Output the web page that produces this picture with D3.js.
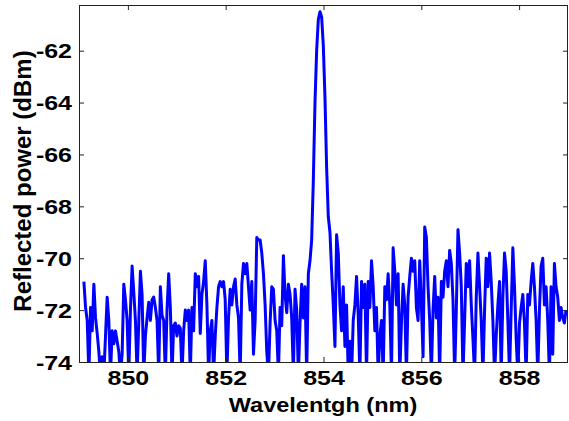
<!DOCTYPE html>
<html>
<head>
<meta charset="utf-8">
<script src="https://cdn.jsdelivr.net/npm/d3@7/dist/d3.min.js"></script>
<style>
  body { margin: 0; background: #fff; }
  text { font-family: "Liberation Sans", Arial, sans-serif; font-weight: bold; fill: #000; }
</style>
</head>
<body>
<svg id="chart"></svg>
<script>
"use strict";

// sampling grid of the spectrum (nm)
const wlStart = 849.1;
const wlStep = 0.034;

// reflected power (dBm) left to right
const power849 = [
  -70.9,-71.9,-72.4,-74.5,-71.9,-72.8,-71.0,-72.3,-72.9,-73.6,
  -74.5,-73.8,-74.5,-73.0,-71.5,-72.4,-74.5,-72.8,-73.3,-72.8,
  -73.2,-73.6,-74.5,-73.7,-71.0,-71.6,-72.4,-74.5,-72.0,-70.3,
  -71.3,-72.4,-74.5,-72.5,-70.5,-71.4,-74.5,-73.0,-72.3,-71.7,
  -72.4,-71.6,-71.5,-71.9,-72.4,-74.5,-71.1,-72.2,-72.4,-74.5,
  -72.0,-70.6,-71.9,-74.5,-72.6,-72.5,-73.0,-72.6
];
const power851 = [
  -72.7,-74.5,-72.8,-72.0,-72.4,-72.0,-74.5,-71.9,-72.8,-70.6,
  -71.1,-70.7,-72.9,-71.4,-70.9,-70.1,-71.8,-74.5,-72.8,-72.4,
  -74.5,-73.0,-71.9,-71.1,-70.9,-71.1,-70.9,-71.6,-74.5,-72.3,
  -71.2,-71.8,-71.1,-70.8,-71.8,-72.3,-74.5,-71.0,-70.2,-70.6,
  -70.2,-71.1,-72.0,-70.9,-73.7,-72.4,-69.2,-69.3,-69.3,-69.8,
  -70.6,-71.8,-73.6,-74.5,-72.5,-71.1
];
const powerPeak = [
  -71.2,-72.4,-72.8,-74.5,-71.9,-72.6,-69.9,-71.4,-72.1,-71.0,
  -71.4,-72.3,-74.5,-71.2,-72.0,-74.5,-72.5,-71.0,-72.3,-71.1,
  -74.5,-70.6,-70.1,-69.3,-67.0,-64.0,-62.0,-60.8,-60.5,-60.7,
  -61.8,-63.8,-66.5,-68.4
];
const power855 = [
  -69.0,-70.5,-71.8,-73.4,-69.1,-69.8,-71.8,-72.8,-71.1,-73.4,
  -71.8,-74.5,-73.2,-74.5,-72.4,-71.8,-70.7,-72.2,-74.5,-70.9,
  -71.9,-71.0,-74.5,-70.9,-71.9,-70.1,-71.1,-72.8,-71.9,-74.5,
  -73.0,-72.4,-74.5,-71.1,-71.6,-70.6,-71.8,-74.5,-69.6,-70.5,
  -71.8,-70.6,-74.5,-72.5,-71.0,-71.8,-74.5,-71.5,-70.7,-70.0,
  -70.5,-70.1,-71.9,-72.4,-70.1,-71.8,-73.8,-68.8,-69.2,-71.1,
  -72.4,-74.5,-72.0,-70.7,-72.3,-71.5,-74.5,-70.9,-71.5,-70.5,
  -70.1,-71.1,-69.7,-70.2,-71.6,-74.5,-72.0,-68.9,-69.8,-71.1,
  -74.5,-72.4,-70.2,-71.1,-70.1,-71.8,-73.1,-74.5,-71.5,-69.8,
  -71.1,-72.4,-74.5,-72.0,-70.0,-71.1,-69.8,-70.9,-72.4,-74.5,
  -73.0,-71.8,-70.9,-74.5,-71.5,-69.8,-70.5,-72.4,-74.5,-72.0,
  -69.6,-71.1,-73.1,-74.5,-72.5,-71.9,-71.4,-72.5,-74.5,-71.4,
  -71.8,-70.9,-70.2,-71.1,-72.4,-74.5,-72.0,-70.3,-70.0,-71.8,
  -71.1,-72.4,-74.5,-71.1,-73.7,-70.2,-71.1,-71.5,-72.4,-71.9,
  -72.3,-72.5,-72.0
];

const xTicks = [850, 852, 854, 856, 858];
const yTicks = [-74, -72, -70, -68, -66, -64, -62];
const xDomain = [849, 859];
const yDomain = [-74, -60.24];

const power = power849.concat(power851, powerPeak, power855);
const spectrum = power.map((p, i) => ({wl: wlStart + i * wlStep, p}));

const width = 569, height = 421;
const margin = {left: 79, right: 1, top: 5, bottom: 59};
const stretch = 1.25;   // tick labels are drawn wide in the original

const svg = d3.select("#chart").attr("width", width).attr("height", height);

const x = d3.scaleLinear().domain(xDomain).range([margin.left, width - margin.right]);
const y = d3.scaleLinear().domain(yDomain).range([height - margin.bottom, margin.top]);

svg.append("defs").append("clipPath").attr("id", "plot")
  .append("rect")
    .attr("x", x.range()[0]).attr("y", y.range()[1])
    .attr("width", x.range()[1] - x.range()[0])
    .attr("height", y.range()[0] - y.range()[1]);

svg.append("path")
  .datum(spectrum)
  .attr("clip-path", "url(#plot)")
  .attr("fill", "none")
  .attr("stroke", "#0000ff")
  .attr("stroke-width", 3)
  .attr("stroke-linejoin", "round")
  .attr("d", d3.line().x(d => x(d.wl)).y(d => y(d.p)));

function styleAxis(g){
  g.select(".domain").remove();
  g.selectAll(".tick line").attr("stroke", "#222");
}

let gx = svg.append("g")
  .attr("transform", `translate(0,${y.range()[0]})`)
  .call(d3.axisBottom(x).tickValues(xTicks).tickSizeInner(-5).tickSizeOuter(0).tickFormat(d3.format("d")))
  .call(styleAxis);
gx.selectAll(".tick text")
  .attr("y", 23.5).attr("dy", 0)
  .attr("transform", `scale(${stretch},1)`)
  .style("font-size", "20px");

svg.append("g")
  .attr("transform", `translate(0,${y.range()[1]})`)
  .call(d3.axisTop(x).tickValues(xTicks).tickSizeInner(-5).tickSizeOuter(0).tickFormat(""))
  .call(styleAxis);

let gy = svg.append("g")
  .attr("transform", `translate(${x.range()[0]},0)`)
  .call(d3.axisLeft(y).tickValues(yTicks).tickSizeInner(-5).tickSizeOuter(0).tickFormat(d => d3.format("d")(d).replace("\u2212", "-")))
  .call(styleAxis);
gy.selectAll(".tick text")
  .attr("x", -7 / stretch).attr("dy", "0.36em")
  .attr("transform", `scale(${stretch},1)`)
  .style("font-size", "20px");

svg.append("g")
  .attr("transform", `translate(${x.range()[1]},0)`)
  .call(d3.axisRight(y).tickValues(yTicks).tickSizeInner(-5).tickSizeOuter(0).tickFormat(""))
  .call(styleAxis);

// plot box
svg.append("rect")
  .attr("x", x.range()[0] + 0.5).attr("y", y.range()[1] + 0.5)
  .attr("width", x.range()[1] - x.range()[0] - 1)
  .attr("height", y.range()[0] - y.range()[1])
  .attr("fill", "none")
  .attr("stroke", "#222");

svg.append("text")
  .attr("transform", `translate(323,411.5) scale(1.12,1)`)
  .attr("text-anchor", "middle")
  .style("font-size", "21px")
  .text("Wavelentgh (nm)");

svg.append("text")
  .attr("transform", "translate(31,181) rotate(-90)")
  .attr("text-anchor", "middle")
  .style("font-size", "24px")
  .text("Reflected power (dBm)");
</script>
</body>
</html>
